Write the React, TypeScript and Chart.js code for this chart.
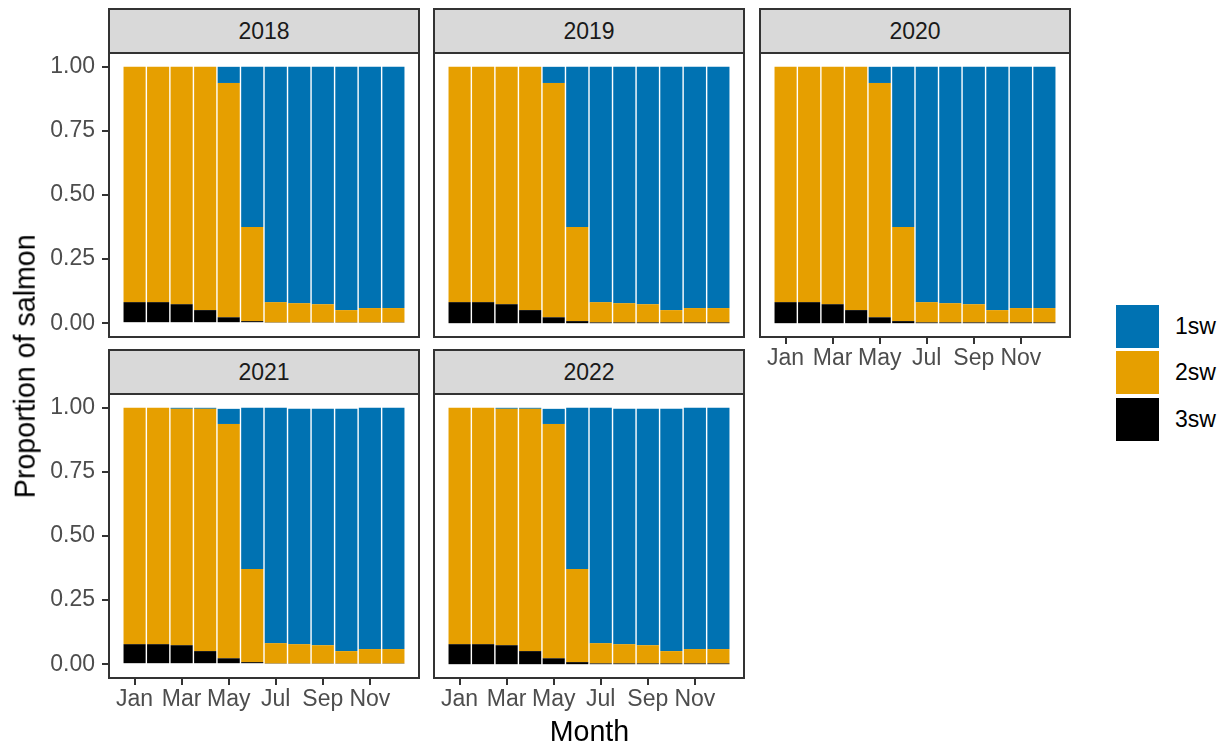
import React, { useEffect, useRef } from "react";
import { Chart, registerables } from "chart.js";

Chart.register(...registerables);

// ---------- data ----------
const MONTHS = ["Jan", "Feb", "Mar", "Apr", "May", "Jun", "Jul", "Aug", "Sep", "Oct", "Nov", "Dec"];
const MONTH_TICKS = [1, 3, 5, 7, 9, 11];
const Y_TICKS = [0, 0.25, 0.5, 0.75, 1];
const SERIES_NAMES = ["1sw", "2sw", "3sw"];
const SERIES_COLORS = ["#0072B2", "#E69F00", "#000000"];

const sw1_2018 = [0, 0, 0, 0, 0.063, 0.625, 0.918, 0.922, 0.926, 0.949, 0.941, 0.941];
const sw2_2018 = [0.918, 0.918, 0.926, 0.949, 0.914, 0.367, 0.079, 0.075, 0.071, 0.048, 0.056, 0.056];
const sw3_2018 = [0.082, 0.082, 0.074, 0.051, 0.023, 0.008, 0.003, 0.003, 0.003, 0.003, 0.003, 0.003];

const sw1_2019 = [0, 0, 0, 0, 0.063, 0.625, 0.918, 0.922, 0.926, 0.949, 0.941, 0.941];
const sw2_2019 = [0.918, 0.918, 0.926, 0.949, 0.914, 0.367, 0.079, 0.075, 0.071, 0.048, 0.056, 0.056];
const sw3_2019 = [0.082, 0.082, 0.074, 0.051, 0.023, 0.008, 0.003, 0.003, 0.003, 0.003, 0.003, 0.003];

const sw1_2020 = [0, 0, 0, 0, 0.063, 0.625, 0.918, 0.922, 0.926, 0.949, 0.941, 0.941];
const sw2_2020 = [0.918, 0.918, 0.926, 0.949, 0.914, 0.367, 0.079, 0.075, 0.071, 0.048, 0.056, 0.056];
const sw3_2020 = [0.082, 0.082, 0.074, 0.051, 0.023, 0.008, 0.003, 0.003, 0.003, 0.003, 0.003, 0.003];

const sw1_2021 = [0, 0, 0.004, 0.004, 0.059, 0.629, 0.918, 0.918, 0.922, 0.945, 0.941, 0.941];
const sw2_2021 = [0.922, 0.922, 0.922, 0.945, 0.914, 0.363, 0.079, 0.075, 0.071, 0.048, 0.056, 0.056];
const sw3_2021 = [0.078, 0.078, 0.074, 0.051, 0.023, 0.008, 0.003, 0.003, 0.003, 0.003, 0.003, 0.003];

const sw1_2022 = [0, 0, 0.004, 0.004, 0.059, 0.629, 0.918, 0.918, 0.922, 0.945, 0.941, 0.941];
const sw2_2022 = [0.922, 0.922, 0.922, 0.945, 0.914, 0.363, 0.079, 0.075, 0.071, 0.048, 0.056, 0.056];
const sw3_2022 = [0.078, 0.078, 0.074, 0.051, 0.023, 0.008, 0.003, 0.003, 0.003, 0.003, 0.003, 0.003];

const PANELS = [
  { year: "2018", s1: sw1_2018, s2: sw2_2018, s3: sw3_2018, col: 0, row: 0, showX: false, showY: true },
  { year: "2019", s1: sw1_2019, s2: sw2_2019, s3: sw3_2019, col: 1, row: 0, showX: false, showY: false },
  { year: "2020", s1: sw1_2020, s2: sw2_2020, s3: sw3_2020, col: 2, row: 0, showX: true, showY: false },
  { year: "2021", s1: sw1_2021, s2: sw2_2021, s3: sw3_2021, col: 0, row: 1, showX: true, showY: true },
  { year: "2022", s1: sw1_2022, s2: sw2_2022, s3: sw3_2022, col: 1, row: 1, showX: true, showY: false },
];

// ---------- layout ----------
const FONT = "'Liberation Sans', Arial, Helvetica, sans-serif";
const COL_LEFT = [110, 435, 761];
const ROW_TOP = [54, 395];
const PW = 308;
const PH = 282;
const Y_AX_W = 110;
const X_AX_H = 44;
const STRIP_H = 46;

function Panel(props: any) {
  const { year, s1, s2, s3, col, row, showX, showY } = props;
  const ref = useRef<HTMLCanvasElement>(null);
  const L = COL_LEFT[col];
  const T = ROW_TOP[row];
  const cw = PW + (showY ? Y_AX_W : 0);
  const ch = PH + (showX ? X_AX_H : 0);

  useEffect(() => {
    if (!ref.current) return;
    const seriesData = [s3, s2, s1];
    const colorIdx = [2, 1, 0];
    const chart = new Chart(ref.current, {
      type: "bar",
      data: {
        datasets: seriesData.map((arr: number[], k: number) => ({
          label: SERIES_NAMES[colorIdx[k]],
          data: arr.map((v: number, i: number) => ({ x: i + 1, y: v })),
          backgroundColor: SERIES_COLORS[colorIdx[k]],
          borderWidth: 0,
          barPercentage: 0.94,
          categoryPercentage: 1,
        })),
      },
      options: {
        animation: false,
        responsive: false,
        maintainAspectRatio: false,
        layout: { padding: 0 },
        plugins: { legend: { display: false }, tooltip: { enabled: false }, title: { display: false } },
        scales: {
          x: {
            type: "linear",
            stacked: true,
            offset: false,
            min: -0.045,
            max: 13.045,
            display: showX,
            afterBuildTicks: (s: any) => {
              s.ticks = MONTH_TICKS.map((v) => ({ value: v }));
            },
            afterFit: (s: any) => {
              if (showX) {
                s.height = X_AX_H;
              }
              s.paddingLeft = 0;
              s.paddingRight = 0;
            },
            grid: {
              offset: false,
              drawOnChartArea: false,
              drawTicks: true,
              tickLength: 8,
              tickWidth: 2,
              lineWidth: 2,
              tickColor: "#333333",
              color: "#333333",
            },
            border: { display: false },
            ticks: {
              autoSkip: false,
              maxRotation: 0,
              minRotation: 0,
              padding: 1,
              color: "#4D4D4D",
              font: { family: FONT, size: 23 },
              callback: (v: any) => MONTHS[Math.round(Number(v)) - 1],
            },
          },
          y: {
            type: "linear",
            stacked: true,
            min: -0.05,
            max: 1.05,
            display: showY,
            afterBuildTicks: (s: any) => {
              s.ticks = Y_TICKS.map((v) => ({ value: v }));
            },
            afterFit: (s: any) => {
              if (showY) {
                s.width = Y_AX_W;
              }
              s.paddingTop = 0;
              s.paddingBottom = 0;
            },
            grid: {
              drawOnChartArea: false,
              drawTicks: true,
              tickLength: 8,
              tickWidth: 2,
              lineWidth: 2,
              tickColor: "#333333",
              color: "#333333",
            },
            border: { display: false },
            ticks: {
              autoSkip: false,
              padding: 7,
              color: "#4D4D4D",
              font: { family: FONT, size: 23 },
              callback: (v: any) => Number(v).toFixed(2),
            },
          },
        },
      } as any,
    });
    return () => chart.destroy();
  }, []);

  return (
    <>
      <canvas
        ref={ref}
        width={cw}
        height={ch}
        style={{
          position: "absolute",
          left: L - (showY ? Y_AX_W : 0),
          top: T,
          width: cw,
          height: ch,
          display: "block",
        }}
      />
      <div
        style={{
          position: "absolute",
          left: L - 2,
          top: T - 2,
          width: PW + 4,
          height: PH + 4,
          border: "2px solid #333333",
          boxSizing: "border-box",
          pointerEvents: "none",
        }}
      />
      <div
        style={{
          position: "absolute",
          left: L - 2,
          top: T - STRIP_H,
          width: PW + 4,
          height: STRIP_H,
          border: "2px solid #333333",
          boxSizing: "border-box",
          background: "#D9D9D9",
          display: "flex",
          alignItems: "center",
          justifyContent: "center",
          fontFamily: FONT,
          fontSize: 23,
          color: "#1A1A1A",
          lineHeight: 1,
        }}
      >
        {year}
      </div>
    </>
  );
}

export default function App() {
  const legendTops = [305, 351, 398];
  return (
    <div
      style={{
        position: "absolute",
        left: 0,
        top: 0,
        width: 1226,
        height: 744,
        background: "#FFFFFF",
        overflow: "hidden",
      }}
    >
      {PANELS.map((p) => (
        <Panel key={p.year} {...p} />
      ))}
      <div
        style={{
          position: "absolute",
          left: 589.5 - 100,
          top: 717,
          width: 200,
          textAlign: "center",
          fontFamily: FONT,
          fontSize: 28.6,
          lineHeight: "28.6px",
          color: "#000000",
        }}
      >
        Month
      </div>
      <div
        style={{
          position: "absolute",
          left: 25 - 200,
          top: 366 - 14.3,
          width: 400,
          height: 28.6,
          textAlign: "center",
          fontFamily: FONT,
          fontSize: 28.6,
          lineHeight: "28.6px",
          color: "#000000",
          transform: "rotate(-90deg)",
          transformOrigin: "50% 50%",
          whiteSpace: "nowrap",
        }}
      >
        Proportion of salmon
      </div>
      {SERIES_NAMES.map((name, i) => (
        <React.Fragment key={name}>
          <div
            style={{
              position: "absolute",
              left: 1116,
              top: legendTops[i],
              width: 43,
              height: 43,
              background: SERIES_COLORS[i],
            }}
          />
          <div
            style={{
              position: "absolute",
              left: 1175,
              top: legendTops[i],
              height: 43,
              display: "flex",
              alignItems: "center",
              fontFamily: FONT,
              fontSize: 23,
              color: "#000000",
            }}
          >
            {name}
          </div>
        </React.Fragment>
      ))}
    </div>
  );
}
